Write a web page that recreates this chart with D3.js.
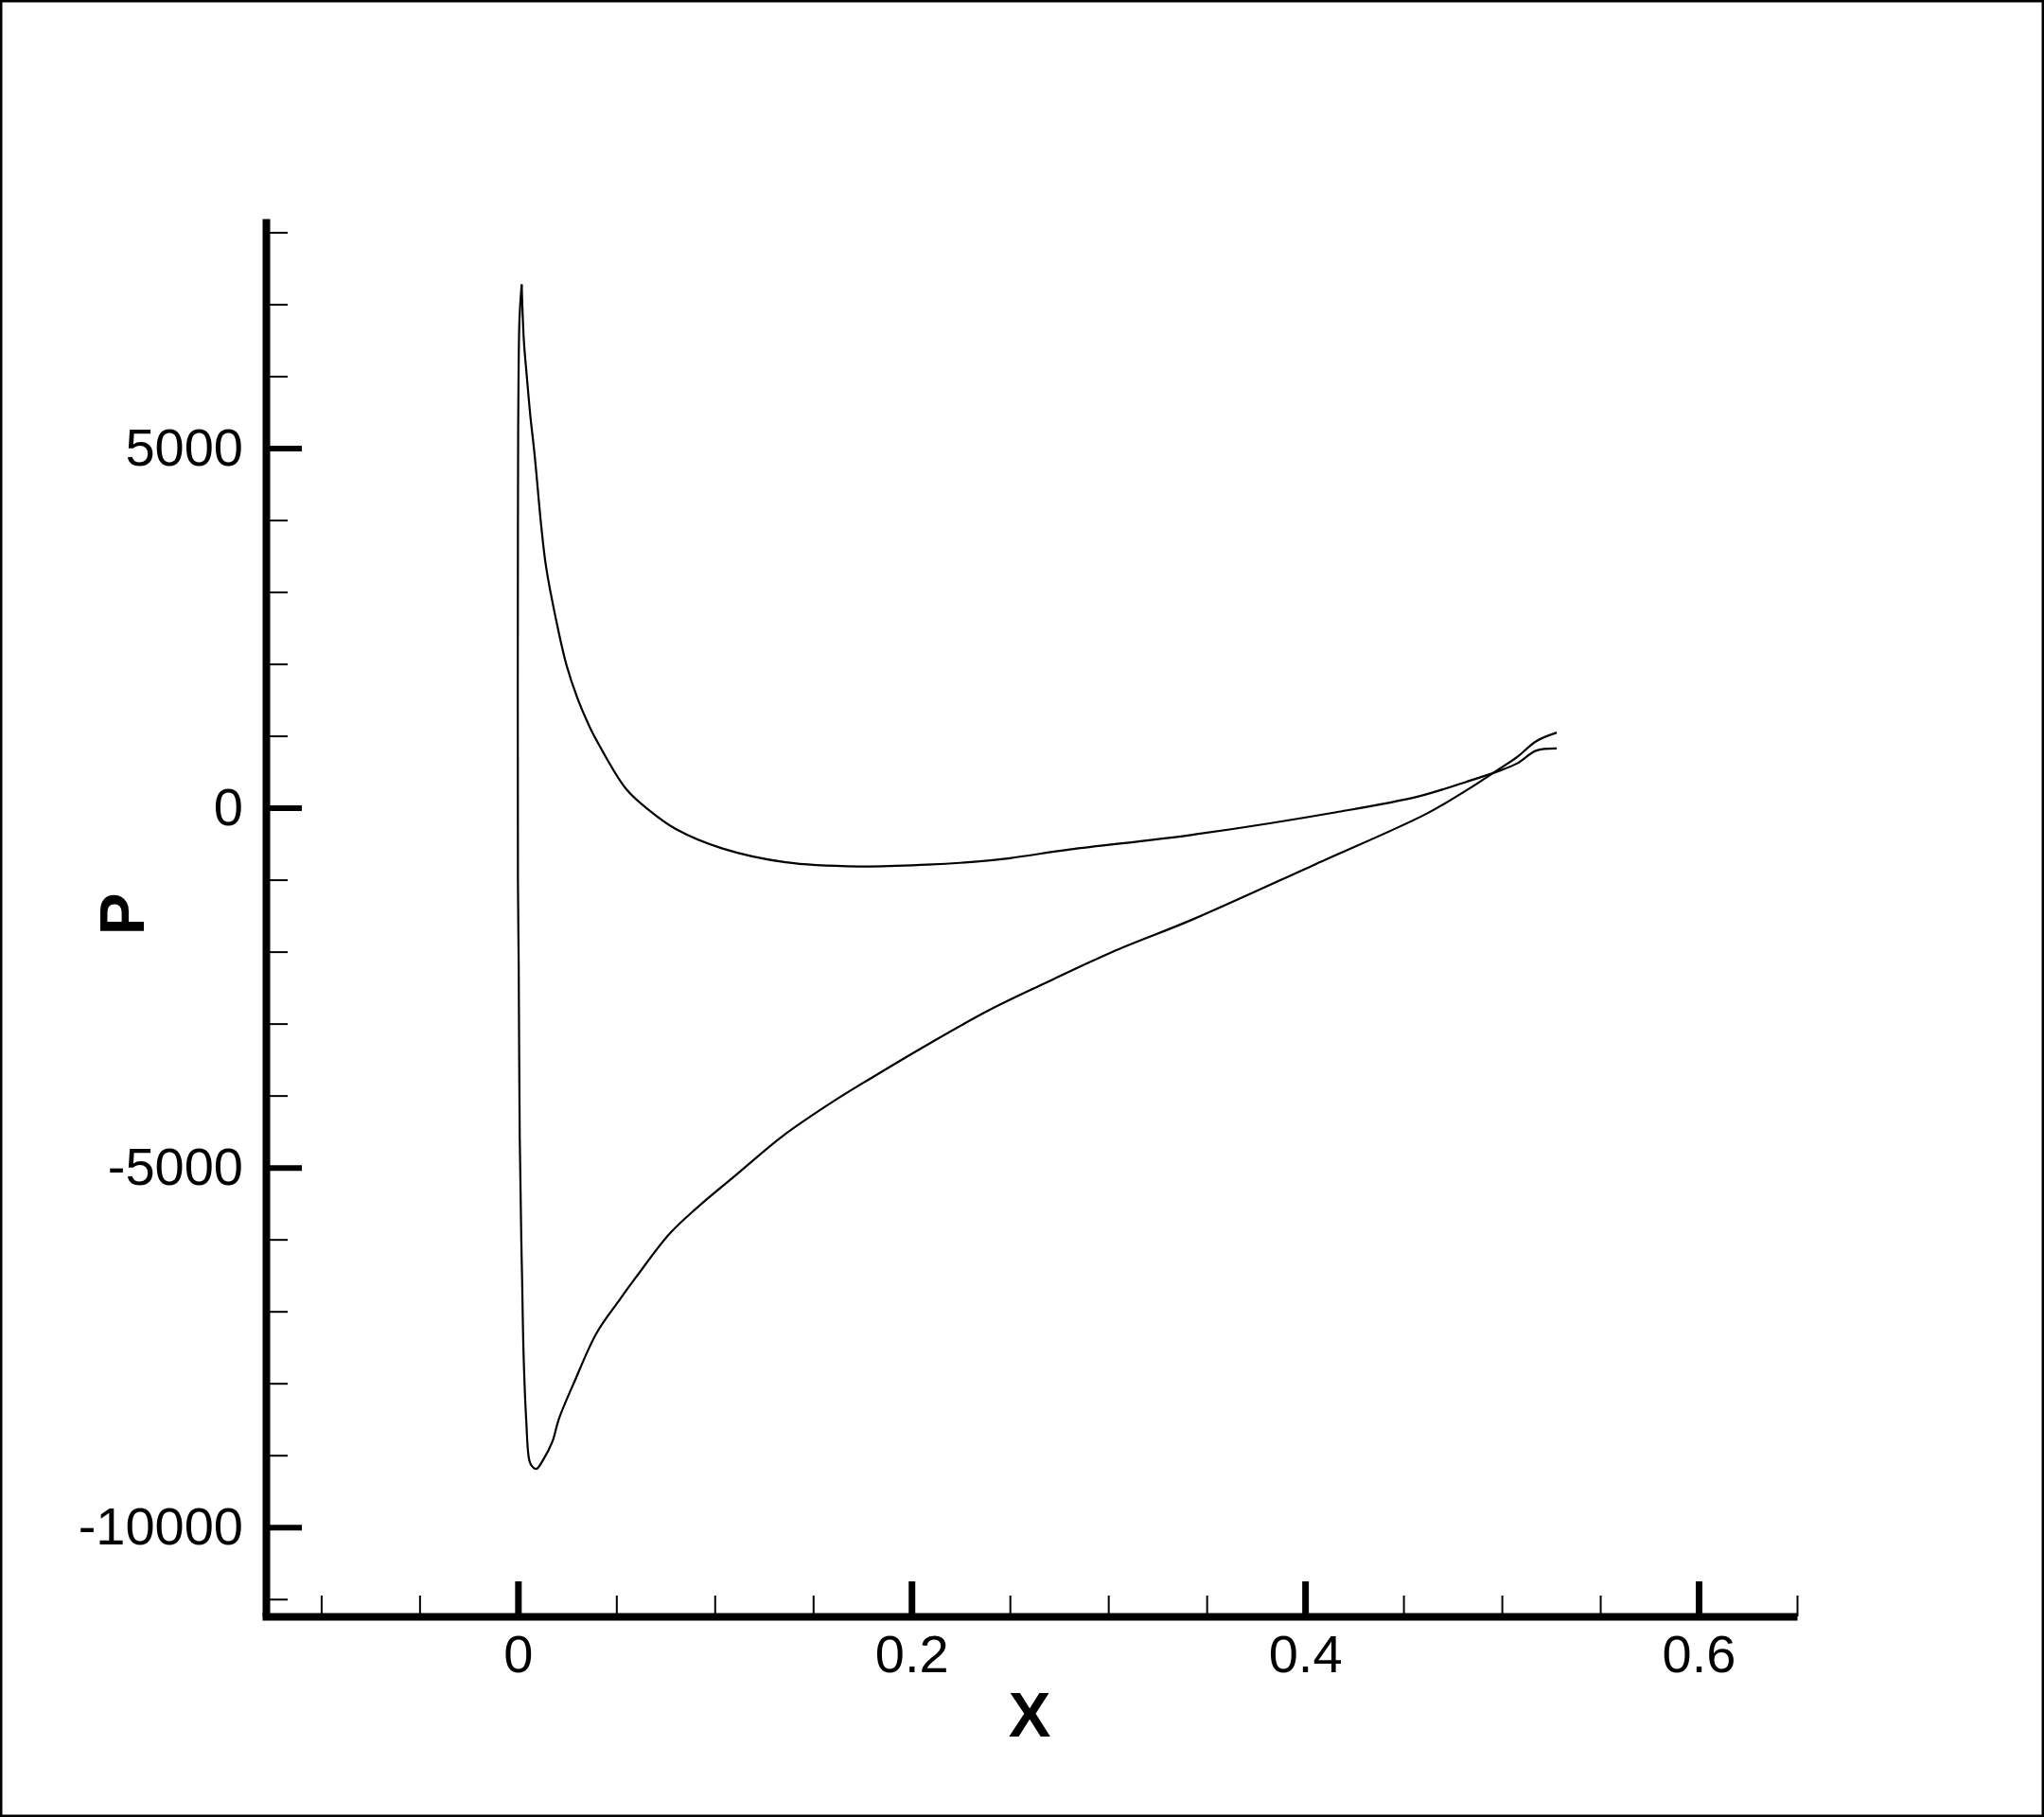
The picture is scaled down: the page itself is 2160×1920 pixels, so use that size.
<!DOCTYPE html>
<html>
<head>
<meta charset="utf-8">
<script src="https://d3js.org/d3.v7.min.js"></script>
<style>
  html, body { margin: 0; padding: 0; background: #fff; }
  svg { display: block; }
  text { font-family: "Liberation Sans", Arial, sans-serif; fill: #000; }
</style>
</head>
<body>
<div id="chart"></div>
<script>
// pressure side: from the stagnation point going aft
var presX = [0.0019, 0.0030, 0.0045, 0.0063, 0.0085, 0.0119, 0.0143, 0.0191, 0.0247, 0.0303, 0.0367, 0.0399,
             0.0551, 0.0672, 0.080, 0.104, 0.136, 0.173, 0.208, 0.232, 0.250, 0.2803, 0.3428, 0.4159, 0.4575,
             0.4822, 0.4982, 0.5078, 0.5175, 0.5279];
var presP = [7275, 6500, 6000, 5450, 4900, 3900, 3350, 2650, 1980, 1520, 1110, 940,
             257, -45, -291, -566, -757, -815, -790, -750, -700, -580, -375, -61, 158,
             363, 509, 618, 795, 825];

// suction side: from the stagnation point down the leading edge, then aft
var sucX = [0.0019, 0.0008, 0.0002, 0.0000, 0.0000, 0.0004, 0.0009, 0.0017, 0.0021, 0.0029,
            0.0042, 0.0058, 0.0074, 0.0094, 0.0126, 0.0175, 0.0207, 0.0287, 0.040, 0.0511, 0.0599, 0.0769,
            0.0908, 0.1105, 0.1343, 0.160, 0.1797, 0.2095, 0.2391, 0.2688, 0.302, 0.3428, 0.4053, 0.4617,
            0.4822, 0.4982, 0.5078, 0.5175, 0.5279];
var sucP = [7275, 6800, 5600, 4000, -1000, -2245, -4538, -5987, -6530, -7626,
            -8504, -9074, -9162, -9190, -9074, -8811, -8504, -7978, -7300, -6860, -6530, -5926,
            -5565, -5112, -4568, -4086, -3754, -3271, -2818, -2426, -2004, -1553, -784, -83,
            246, 531, 707, 926, 1045];

// ticks
var xMajorTicks = [0, 0.2, 0.4, 0.6];
var xMinorTicks = [-0.1, -0.05, 0.05, 0.1, 0.15, 0.25, 0.3, 0.35, 0.45, 0.5, 0.55, 0.65];
var yMajorTicks = [-10000, -5000, 0, 5000];
var yMinorTicks = [-11000, -9000, -8000, -7000, -6000, -4000, -3000, -2000, -1000,
                   1000, 2000, 3000, 4000, 6000, 7000, 8000];

var width = 2160;
var height = 1920;

var svg = d3.select("#chart")
    .append("svg")
    .attr("width", width)
    .attr("height", height);

// frame round the whole picture
svg.append("rect")
    .attr("x", 1.25)
    .attr("y", 1.25)
    .attr("width", width - 2.5)
    .attr("height", height - 2.5)
    .attr("fill", "none")
    .attr("stroke", "#000")
    .attr("stroke-width", 2.5);

var x = d3.scaleLinear().domain([-0.13, 0.65]).range([277, 1899]);
var y = d3.scaleLinear().domain([-11240, 8190]).range([1708, 231]);

var line = d3.line()
    .x(function (d) { return x(d[0]); })
    .y(function (d) { return y(d[1]); })
    .curve(d3.curveCatmullRom.alpha(0.5));

var pres = presX.map(function (v, i) { return [v, presP[i]]; });
var suc = sucX.map(function (v, i) { return [v, sucP[i]]; });

svg.selectAll("path.curve")
    .data([pres, suc])
    .enter()
    .append("path")
    .attr("class", "curve")
    .attr("d", line)
    .attr("fill", "none")
    .attr("stroke", "#000")
    .attr("stroke-width", 2.2)
    .attr("stroke-linejoin", "round");

// x axis: minor ticks, then major ticks with labels
var xMinor = svg.append("g")
    .attr("transform", "translate(0,1708)")
    .call(d3.axisBottom(x).tickValues(xMinorTicks).tickSize(-22).tickSizeOuter(0).tickFormat(""));
xMinor.select(".domain").remove();
xMinor.selectAll(".tick line").attr("stroke", "#000").attr("stroke-width", 2);

var xMajor = svg.append("g")
    .attr("transform", "translate(0,1708)")
    .call(d3.axisBottom(x).tickValues(xMajorTicks).tickSize(-37).tickSizeOuter(0)
        .tickPadding(19).tickFormat(function (d) { return String(d); }));
xMajor.select(".domain").attr("stroke", "#000").attr("stroke-width", 8);
xMajor.selectAll(".tick line").attr("stroke", "#000").attr("stroke-width", 7);
xMajor.selectAll(".tick text")
    .attr("font-size", 56)
    .attr("font-family", "'Liberation Sans', Arial, sans-serif")
    .attr("fill", "#000");

// y axis
var yMinor = svg.append("g")
    .attr("transform", "translate(281,0)")
    .call(d3.axisLeft(y).tickValues(yMinorTicks).tickSize(-23).tickSizeOuter(0).tickFormat(""));
yMinor.select(".domain").remove();
yMinor.selectAll(".tick line").attr("stroke", "#000").attr("stroke-width", 2);

var yMajor = svg.append("g")
    .attr("transform", "translate(281,0)")
    .call(d3.axisLeft(y).tickValues(yMajorTicks).tickSize(-38).tickSizeOuter(0)
        .tickPadding(24).tickFormat(function (d) { return String(d); }));
yMajor.select(".domain").attr("stroke", "#000").attr("stroke-width", 8);
yMajor.selectAll(".tick line").attr("stroke", "#000").attr("stroke-width", 6);
yMajor.selectAll(".tick text")
    .attr("font-size", 56)
    .attr("font-family", "'Liberation Sans', Arial, sans-serif")
    .attr("fill", "#000");

// axis titles
svg.append("text")
    .attr("x", 1088)
    .attr("y", 1835)
    .attr("text-anchor", "middle")
    .attr("font-size", 67)
    .attr("font-weight", "bold")
    .text("X");

svg.append("text")
    .attr("transform", "translate(152,966) rotate(-90)")
    .attr("text-anchor", "middle")
    .attr("font-size", 67)
    .attr("font-weight", "bold")
    .text("P");
</script>
</body>
</html>
